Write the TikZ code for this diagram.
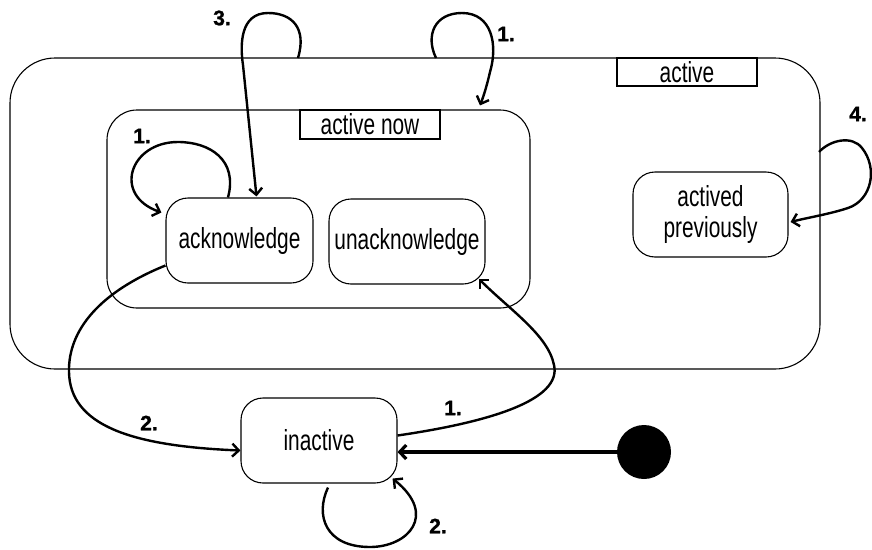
\documentclass[tikz,border=0pt]{standalone}
\usepackage{fontspec}
\setmainfont{Liberation Sans}[FakeStretch=0.72]
\newfontfamily\numf{Liberation Sans}[FakeBold=1.2]
\usetikzlibrary{arrows.meta}
\begin{document}
\begin{tikzpicture}[x=1pt,y=-1pt,
  box/.style={draw,line width=1.1pt,rounded corners=22pt,inner sep=0pt,
    font=\fontsize{29}{31}\selectfont,align=center},
  lbl/.style={draw,line width=1.1pt,fill=white,inner sep=0pt,
    font=\fontsize{29}{31}\selectfont},
  arr/.style={line width=2.4pt,-{Straight Barb[length=6.5pt,width=13pt]}},
  num/.style={font=\numf\bfseries\fontsize{21}{24}\selectfont,inner sep=0pt}]
\useasboundingbox (0,0) rectangle (872,549);
% containers
\node[draw,line width=1.1pt,rounded corners=45pt,inner sep=0pt,
  minimum width=810pt,minimum height=311pt] (outer) at (415,213.5) {};
\node[draw,line width=1.1pt,rounded corners=30pt,inner sep=0pt,
  minimum width=423pt,minimum height=198pt] (inner) at (318.5,209) {};
\node[lbl,minimum width=140pt,minimum height=28pt] (activelbl) at (687,72) {active};
\node[lbl,minimum width=140pt,minimum height=29pt] (nowlbl) at (370,124.5) {active now};
% states
\node[box,minimum width=147pt,minimum height=85pt] (ack) at (239.5,240.5) {acknowledge};
\node[box,minimum width=156pt,minimum height=85pt] (unack) at (407,241.5) {unacknowledge};
\node[box,minimum width=155pt,minimum height=85pt] (prev) at (710.5,214.5) {actived\\previously};
\node[box,minimum width=156pt,minimum height=85pt] (inactive) at (319,440.5) {inactive};
\node[circle,fill=black,minimum size=54pt,inner sep=0pt] (init) at (644,452) {};
% free ends on the container borders
\coordinate (c3) at (298,58);
\coordinate (c1) at (436,58);
\coordinate (c4) at (819,152);
% connectors
\draw[line width=3.2pt,-{Straight Barb[length=6.5pt,width=14pt]}] (init.west) -- (inactive.east |- init.west);
\draw[arr] ([yshift=5pt]inactive.east) .. controls (490,422) and (562,400) .. (554,365)
  .. controls (548,335) and (510,310) .. ([xshift=-7pt,yshift=6pt]unack.south east);
\draw[arr] ([yshift=-25pt]ack.west) .. controls (100,292) and (68,330) .. (69,372)
  .. controls (70,425) and (130,446) .. ([yshift=-10pt]inactive.west);
\draw[arr] ([xshift=9pt,yshift=-4pt]inactive.south) .. controls (315,515) and (325,547) .. (370,547)
  .. controls (408,547) and (438,515) .. ([xshift=-5pt,yshift=5pt]inactive.south east);
\draw[arr] ([xshift=-11.5pt]ack.north) .. controls (238,160) and (210,142) .. (178,142)
  .. controls (130,142) and (112,195) .. ([xshift=-4pt,yshift=28pt]ack.west);
\draw[arr] (c3) .. controls (307,28) and (292,13) .. (268,13)
  .. controls (240,13) and (240,45) .. (243,65) -- ([xshift=17pt,yshift=1pt]ack.north);
\draw[arr] (c1) .. controls (425,35) and (435,13) .. (462,13)
  .. controls (492,13) and (498,45) .. (490,72) .. controls (487,85) and (484,95) .. ([xshift=161.5pt,yshift=4pt]inner.north);
\draw[arr] (c4) .. controls (830,140) and (852,135) .. (862,148)
  .. controls (878,168) and (872,200) .. (848,208)
  .. controls (830,214) and (806,218) .. ([xshift=2pt,yshift=-7.5pt]prev.east);
% labels
\node[num] (n3) at (222,18) {3.};
\node[num] (n1a) at (506,34) {1.};
\node[num] (n1b) at (142,136) {1.};
\node[num] (n4) at (858,114) {4.};
\node[num] (n2a) at (149,423) {2.};
\node[num] (n1c) at (453,408) {1.};
\node[num] (n2b) at (438,526) {2.};
\end{tikzpicture}
\end{document}
